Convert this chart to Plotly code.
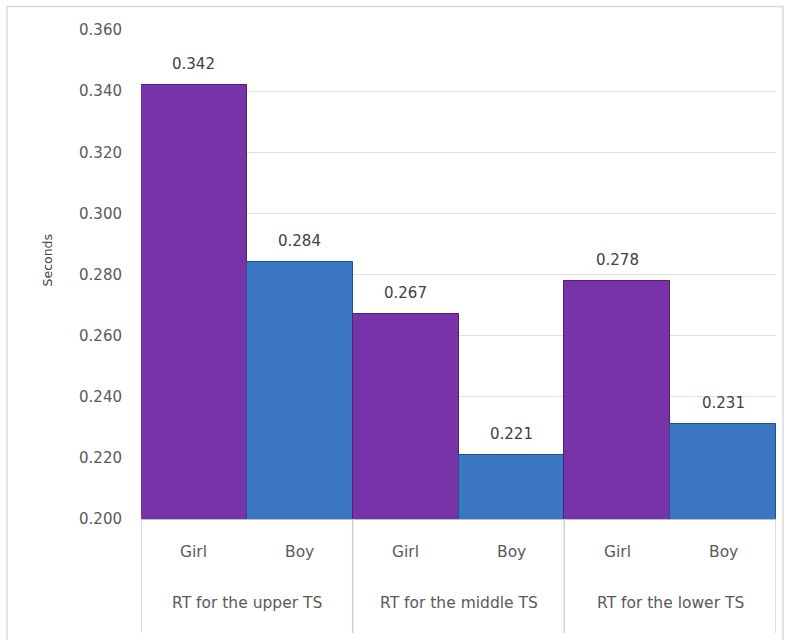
import plotly.graph_objects as go

groups = ["RT for the upper TS", "RT for the middle TS", "RT for the lower TS"]
genders = ["Girl", "Boy"]
values = [0.342, 0.284, 0.267, 0.221, 0.278, 0.231]
y_ticks = [0.200, 0.220, 0.240, 0.260, 0.280, 0.300, 0.320, 0.340, 0.360]

girl_color = "#7933A8"
boy_color = "#3A76C2"
girl_edge = "#52206F"
boy_edge = "#24508A"

xs = [s for _ in groups for s in genders]
xpos = list(range(len(xs)))
colors = [girl_color if s == "Girl" else boy_color for s in xs]
edges = [girl_edge if s == "Girl" else boy_edge for s in xs]

font = "DejaVu Sans, sans-serif"
fig = go.Figure()
fig.add_trace(go.Bar(
    x=xpos, y=values,
    marker=dict(color=colors, line=dict(color=edges, width=1)),
    showlegend=False, hoverinfo="skip",
))

# value labels
for i, v in enumerate(values):
    fig.add_annotation(
        x=i, y=v, xref="x", yref="y", text=f"{v:.3f}", showarrow=False,
        yanchor="middle", yshift=21, font=dict(family=font, size=15, color="#404040"),
    )

# category labels (inner level)
for i, s in enumerate(xs):
    fig.add_annotation(
        x=i, y=0, xref="x", yref="paper", text=s, showarrow=False,
        yanchor="middle", yshift=-33, font=dict(family=font, size=15.5, color="#595959"),
    )

# group labels (outer level)
n = len(genders)
for k, g in enumerate(groups):
    fig.add_annotation(
        x=k * n + (n - 1) / 2, y=0, xref="x", yref="paper", text=g, showarrow=False,
        yanchor="middle", yshift=-84, font=dict(family=font, size=15.5, color="#595959"),
    )

# y-axis title
fig.add_annotation(
    x=-0.147, y=0.53, xref="paper", yref="paper", text="Seconds", showarrow=False,
    textangle=-90, xanchor="center", yanchor="middle",
    font=dict(family=font, size=12.5, color="#404040"),
)

shapes = [dict(type="rect", xref="paper", yref="paper", x0=-0.211, x1=1.011, y0=-0.26, y1=1.048,
               line=dict(color="#D9D9D9", width=1.5), layer="below")]
for k in range(len(groups) + 1):
    xd = k * n - 0.5
    shapes.append(dict(type="line", xref="x", yref="paper", x0=xd, x1=xd, y0=0, y1=-0.233,
                       line=dict(color="#D0D0D0", width=1.5)))

fig.update_layout(
    width=791, height=640,
    margin=dict(l=141, r=15, t=30, b=121),
    paper_bgcolor="white", plot_bgcolor="white",
    bargap=0,
    font=dict(family=font, size=15, color="#595959"),
    shapes=shapes,
)
fig.update_yaxes(
    range=[0.200, 0.360], tickvals=y_ticks, tickformat=".3f",
    showgrid=True, gridcolor="#E0E0E0", gridwidth=1, zeroline=False,
    showline=False, ticks="", ticklabelstandoff=18,
    tickfont=dict(family=font, size=15, color="#595959"),
)
fig.update_xaxes(
    range=[-0.5, len(xs) - 0.5], showticklabels=False, showgrid=False, zeroline=False,
    showline=True, linecolor="#BFBFBF", linewidth=1, ticks="",
)

fig.write_html("out.html")
